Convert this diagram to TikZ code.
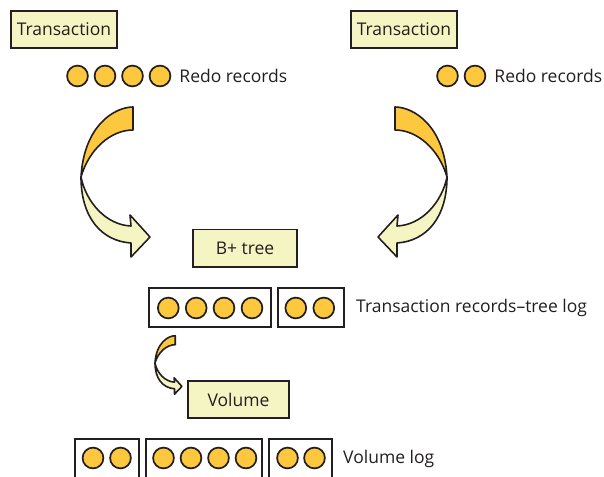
\documentclass[tikz,border=0pt]{standalone}
\usepackage{fontspec}
\setmainfont{Open Sans}
\usetikzlibrary{positioning}
\definecolor{paleyellow}{RGB}{245,245,196}
\definecolor{gold}{RGB}{253,200,62}
\definecolor{ink}{RGB}{35,31,32}

\begin{document}
\begin{tikzpicture}[
  x=1pt, y=-1pt,
  tagbox/.style={draw=ink, line width=1.8pt, fill=paleyellow, minimum height=37.2pt, inner sep=0pt, text=ink, font=\fontsize{17.5}{20}\selectfont},
  logbox/.style={draw=ink, line width=1.8pt, fill=white, minimum height=39.2pt, inner sep=0pt},
  rec/.style={circle, draw=ink, line width=1.7pt, fill=gold, minimum size=20.8pt, inner sep=0pt},
  note/.style={anchor=west, inner sep=0pt, text=ink, font=\fontsize{17.5}{20}\selectfont},
  ribbon/.style={draw=ink, line width=1.6pt, line join=round},
  uturn/.pic={
    \path[ribbon, fill=gold] (52,-70) .. controls (34,-70) and (3,-52) .. (0,0)
      .. controls (8,-28) and (30,-47) .. (52,-47) -- cycle;
    \path[ribbon, fill=paleyellow] (0,0) .. controls (5,25) and (25,48) .. (50,49)
      -- (49,38) -- (69,60) -- (50,80) -- (50,66)
      .. controls (20,64) and (0,40) .. (0,0) -- cycle;
  }
]
\useasboundingbox (0,0) rectangle (604,476);

% transactions and their redo records
\node[tagbox, minimum width=106.2pt] (tleft) at (64,29.5) {Transaction};
\node[tagbox, minimum width=106.2pt] (tright) at (404,29.5) {Transaction};
\foreach \i/\x in {1/77.5,2/105,3/132.5,4/160}
  \node[rec] (rl\i) at (\x,76) {};
\foreach \i/\x in {1/447.5,2/475}
  \node[rec] (rr\i) at (\x,76) {};
\node[note, right=8pt of rl4] (redoleft) {Redo records};
\node[note, right=8pt of rr2] (redoright) {Redo records};

% ribbons into the tree
\pic at (81,177) {uturn};
\pic[xscale=-1] at (447,177) {uturn};

% B+ tree and its log
\node[tagbox, minimum width=104.2pt] (btree) at (245,248) {B+ tree};
\node[logbox, minimum width=122.2pt] (tlogA) at (210,307.5) {};
\node[logbox, minimum width=66.2pt] (tlogB) at (311,307.5) {};
\foreach \i/\x in {1/168.3,2/196.2,3/224,4/252}
  \node[rec] (ta\i) at (\x,308) {};
\foreach \i/\x in {1/295.8,2/323.8}
  \node[rec] (tb\i) at (\x,308) {};
\node[note, right=11pt of tlogB] (treelog) {Transaction records–tree log};

% volume and its log
\pic[scale=0.39] at (155,363) {uturn};
\node[tagbox, minimum width=101.2pt] (volume) at (238.5,399.5) {Volume};
\node[logbox, minimum width=64.2pt] (vlogA) at (107,458.5) {};
\node[logbox, minimum width=116.2pt] (vlogB) at (204,458.5) {};
\node[logbox, minimum width=63.2pt] (vlogC) at (300.5,458.5) {};
\foreach \i/\x in {1/93,2/120.5}
  \node[rec] (va\i) at (\x,458) {};
\foreach \i/\x in {1/163.5,2/191,3/218.5,4/246}
  \node[rec] (vb\i) at (\x,458) {};
\foreach \i/\x in {1/287.5,2/314.5}
  \node[rec] (vc\i) at (\x,458) {};
\node[note, right=10pt of vlogC] (volumelog) {Volume log};
\end{tikzpicture}
\end{document}
